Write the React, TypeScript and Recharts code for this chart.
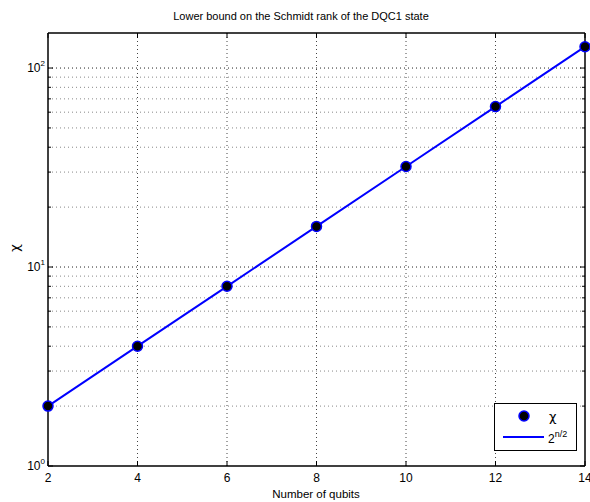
import React from 'react';
import { ComposedChart, Line, Scatter, XAxis, YAxis, ReferenceLine } from 'recharts';

const qubits = [2, 4, 6, 8, 10, 12, 14];
const chiValues = [2, 4, 8, 16, 32, 64, 128];
const boundValues = [2, 4, 8, 16, 32, 64, 128];
const xTicks = [2, 4, 6, 8, 10, 12, 14];
const yMajorTicks = [1, 10, 100];
const yAllTicks = [1, 2, 3, 4, 5, 6, 7, 8, 9, 10, 20, 30, 40, 50, 60, 70, 80, 90, 100];
const xGrid = [4, 6, 8, 10, 12];
const yGridMajor = [10, 100];
const yGridMinor = [2, 3, 4, 5, 6, 7, 8, 9, 20, 30, 40, 50, 60, 70, 80, 90];
const yExponents: Record<number, string> = { 1: '0', 10: '1', 100: '2' };

const data = qubits.map((n, i) => ({ n, chi: chiValues[i], bound: boundValues[i] }));

const FONT = '"Liberation Sans", Arial, Helvetica, sans-serif';
const CHI_FONT = '"DejaVu Sans", "Noto Sans", sans-serif';

const BottomTick = (props: any) => {
  const { x, y, payload } = props;
  return (
    <g>
      <line x1={x} x2={x} y1={y} y2={y - 5} stroke="#000" strokeWidth={1} />
      <text x={x} y={y + 16} textAnchor="middle" fontSize={12} fontFamily={FONT} fill="#000">
        {payload.value}
      </text>
    </g>
  );
};

const TopTick = (props: any) => {
  const { x, y } = props;
  return <line x1={x} x2={x} y1={y} y2={y + 5} stroke="#000" strokeWidth={1} />;
};

const LeftTick = (props: any) => {
  const { x, y, payload } = props;
  const v = payload.value;
  const major = yMajorTicks.includes(v);
  return (
    <g>
      <line x1={x} x2={x + (major ? 5 : 3)} y1={y} y2={y} stroke="#000" strokeWidth={1} />
      {major && (
        <text x={x - 3} y={y + 4} textAnchor="end" fontSize={12} fontFamily={FONT} fill="#000">
          <tspan>10</tspan>
          <tspan dy={-6} fontSize={8}>{yExponents[v]}</tspan>
        </text>
      )}
    </g>
  );
};

const RightTick = (props: any) => {
  const { x, y, payload } = props;
  const major = yMajorTicks.includes(payload.value);
  return <line x1={x} x2={x - (major ? 5 : 3)} y1={y} y2={y} stroke="#000" strokeWidth={1} />;
};

const Dot = (props: any) => {
  const { cx, cy } = props;
  if (cx == null || cy == null) return null;
  return <circle cx={cx} cy={cy} r={5} fill="#000" stroke="#0000ff" strokeWidth={1.5} />;
};

export default function App() {
  return (
    <div style={{ position: 'absolute', left: 0, top: 0, width: 590, height: 502, background: '#fff' }}>
      <ComposedChart
        width={590}
        height={502}
        data={data}
        margin={{ top: 23, right: 0, bottom: 0, left: 0 }}
      >
        <XAxis
          xAxisId="bottom"
          dataKey="n"
          type="number"
          domain={[2, 14]}
          ticks={xTicks}
          interval={0}
          height={36}
          tickSize={0}
          tickMargin={0}
          tick={<BottomTick />}
          axisLine={{ stroke: '#000', strokeWidth: 1.5 }}
          tickLine={false}
        />
        <XAxis
          xAxisId="top"
          orientation="top"
          dataKey="n"
          type="number"
          domain={[2, 14]}
          ticks={xTicks}
          interval={0}
          height={10}
          tickSize={0}
          tickMargin={0}
          tick={<TopTick />}
          axisLine={{ stroke: '#000', strokeWidth: 1.5 }}
          tickLine={false}
        />
        <YAxis
          yAxisId="left"
          type="number"
          scale="log"
          domain={[1, 150]}
          allowDataOverflow
          ticks={yAllTicks}
          interval={0}
          width={48}
          tickSize={0}
          tickMargin={0}
          tick={<LeftTick />}
          axisLine={{ stroke: '#000', strokeWidth: 1.5 }}
          tickLine={false}
        />
        <YAxis
          yAxisId="right"
          orientation="right"
          type="number"
          scale="log"
          domain={[1, 150]}
          allowDataOverflow
          ticks={yAllTicks}
          interval={0}
          width={5}
          tickSize={0}
          tickMargin={0}
          tick={<RightTick />}
          axisLine={{ stroke: '#000', strokeWidth: 1.5 }}
          tickLine={false}
        />
        {yGridMinor.map((v) => (
          <ReferenceLine
            key={'ym' + v}
            xAxisId="bottom"
            yAxisId="left"
            y={v}
            stroke="#888"
            strokeWidth={1}
            strokeDasharray="1 3"
          />
        ))}
        {yGridMajor.map((v) => (
          <ReferenceLine
            key={'yM' + v}
            xAxisId="bottom"
            yAxisId="left"
            y={v}
            stroke="#222"
            strokeWidth={1}
            strokeDasharray="1 3"
          />
        ))}
        {xGrid.map((v) => (
          <ReferenceLine
            key={'x' + v}
            xAxisId="bottom"
            yAxisId="left"
            x={v}
            stroke="#444"
            strokeWidth={1}
            strokeDasharray="1 3"
          />
        ))}
        <Scatter
          xAxisId="bottom"
          yAxisId="left"
          dataKey="chi"
          shape={<Dot />}
          isAnimationActive={false}
        />
        <Line
          xAxisId="bottom"
          yAxisId="left"
          dataKey="bound"
          stroke="#0000ff"
          strokeWidth={2}
          dot={false}
          activeDot={false}
          isAnimationActive={false}
        />
      </ComposedChart>
      <div
        style={{
          position: 'absolute',
          left: 494,
          top: 403,
          width: 83,
          height: 48,
          border: '1px solid #000',
          background: '#fff',
          boxSizing: 'border-box',
        }}
      >
        <svg width={81} height={46} style={{ position: 'absolute', left: 0, top: 0 }}>
          <circle cx={29} cy={12} r={5} fill="#000" stroke="#0000ff" strokeWidth={1.5} />
          <text x={54} y={17} fontSize={13} fontFamily={CHI_FONT} fill="#000">χ</text>
          <line x1={8} x2={49} y1={33} y2={33} stroke="#0000ff" strokeWidth={2} />
          <text x={53} y={39} fontSize={12} fontFamily={FONT} fill="#000">
            <tspan>2</tspan>
            <tspan dy={-6} fontSize={9}>n/2</tspan>
          </text>
        </svg>
      </div>
      <div
        style={{
          position: 'absolute',
          left: 0,
          width: 602,
          top: 9,
          textAlign: 'center',
          fontFamily: FONT,
          fontSize: 11,
          color: '#000',
          lineHeight: '14px',
        }}
      >
        Lower bound on the Schmidt rank of the DQC1 state
      </div>
      <div
        style={{
          position: 'absolute',
          left: 0,
          width: 632,
          top: 487,
          textAlign: 'center',
          fontFamily: FONT,
          fontSize: 11.5,
          color: '#000',
          lineHeight: '14px',
        }}
      >
        Number of qubits
      </div>
      <div
        style={{
          position: 'absolute',
          left: 8,
          top: 241,
          width: 14,
          height: 14,
          transform: 'rotate(-90deg)',
          fontFamily: CHI_FONT,
          fontSize: 13,
          color: '#000',
          lineHeight: '14px',
          textAlign: 'center',
        }}
      >
        χ
      </div>
    </div>
  );
}
